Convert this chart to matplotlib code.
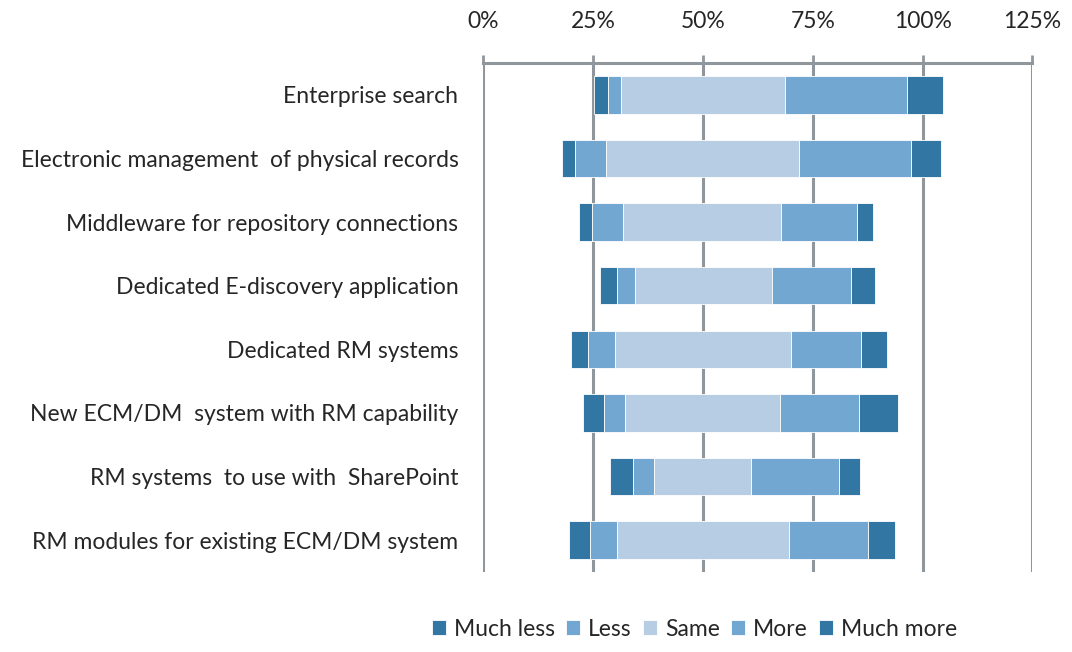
import numpy as np
import matplotlib.pyplot as plt

plt.rcParams['font.family'] = ['Lato', 'DejaVu Sans']

categories = [
    'Enterprise search',
    'Electronic management  of physical records',
    'Middleware for repository connections',
    'Dedicated E-discovery application',
    'Dedicated RM systems',
    'New ECM/DM  system with RM capability',
    'RM systems  to use with  SharePoint',
    'RM modules for existing ECM/DM system',
]
series = ['Much less', 'Less', 'Same', 'More', 'Much more']

# left edge of each bar (percent) and segment widths
offset = [25.2, 17.8, 21.8, 26.6, 20.0, 22.7, 28.8, 19.5]
much_less = [3.2, 3.1, 3.0, 3.8, 3.9, 4.8, 5.3, 4.8]
less = [2.9, 7.0, 7.0, 4.1, 6.1, 4.8, 4.7, 6.1]
same = [37.4, 44.0, 36.0, 31.2, 40.0, 35.2, 22.1, 39.2]
more = [27.8, 25.4, 17.2, 18.0, 15.9, 18.0, 20.1, 18.0]
much_more = [8.2, 6.9, 3.8, 5.5, 6.0, 9.0, 4.8, 6.1]

colors = ['#3277a3', '#72a7d1', '#b7cde3', '#72a7d1', '#3277a3']
grid_color = '#8f969c'
text_color = '#262626'
fs = 16.5

fig = plt.figure(figsize=(10.72, 6.52), dpi=100)
ax = fig.add_axes([0.451, 0.1227, 0.512, 0.7807])

y = np.arange(len(categories))
left = np.array(offset, dtype=float)
for name, vals, c in zip(series, [much_less, less, same, more, much_more], colors):
    ax.barh(y, vals, left=left, height=0.59, color=c, edgecolor='white',
            linewidth=0.6, label=name, zorder=3)
    left += np.array(vals)

ax.set_xlim(0, 125)
ax.set_ylim(len(categories) - 0.5, -0.5)
ax.set_xticks([0, 25, 50, 75, 100, 125])
ax.set_xticklabels([f'{t}%' for t in [0, 25, 50, 75, 100, 125]])
ax.xaxis.tick_top()
ax.tick_params(axis='x', colors=grid_color, length=6, width=2, pad=16,
               labelsize=fs, labelcolor=text_color)
ax.set_yticks(y)
ax.set_yticklabels(categories)
ax.tick_params(axis='y', length=0, pad=18, labelsize=fs, labelcolor=text_color)

for s in ['left', 'right', 'bottom']:
    ax.spines[s].set_visible(False)
ax.spines['top'].set_color(grid_color)
ax.spines['top'].set_linewidth(2.2)

for t in [0, 25, 50, 75, 100, 125]:
    ax.axvline(t, color=grid_color, lw=2.2, zorder=1, solid_capstyle='round')

fig.legend(loc='center', bbox_to_anchor=(0.648, 0.035), ncol=5, frameon=False,
           fontsize=fs, handlelength=0.6, handleheight=0.6, handletextpad=0.35,
           columnspacing=0.5, labelcolor=text_color)

fig.savefig('out.png', dpi=100)
